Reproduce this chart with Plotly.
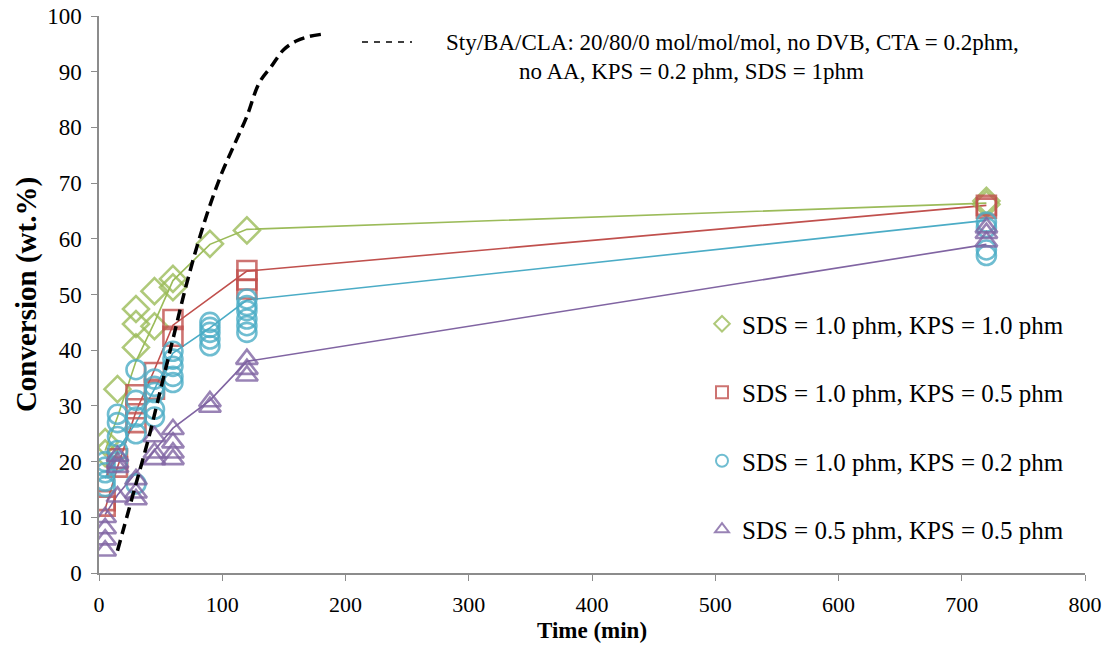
import plotly.graph_objects as go

# ---------------- data ----------------
# Reference run (dashed black curve)
ref_t = [15, 20, 30, 40, 50, 60, 70, 80, 90, 100, 110, 120, 130, 140, 150, 160, 170, 180]
ref_c = [4, 8, 16, 24, 33, 42, 51, 59, 66, 72, 77, 82, 88, 91, 94, 95.5, 96.3, 96.7]

# SDS = 1.0 phm, KPS = 1.0 phm (green diamonds)
g_t = [5, 5, 15, 30, 30, 30, 45, 45, 60, 60, 90, 120, 720, 720]
g_c = [23.5, 21.5, 33, 47.4, 44.7, 40.5, 50.6, 44.3, 52.8, 51.3, 59.1, 61.5, 66.8, 66.2]
g_fit_t = [5, 15, 30, 45, 60, 90, 120, 720]
g_fit_c = [22, 28, 38, 45, 52.5, 59, 61.7, 66.4]

# SDS = 1.0 phm, KPS = 0.5 phm (red squares)
r_t = [5, 5, 15, 15, 30, 30, 30, 45, 45, 60, 60, 120, 120, 120, 720, 720]
r_c = [12, 13, 19, 20.5, 32, 29.5, 27, 36, 33, 45.5, 42.5, 54.3, 52.6, 51, 66, 65.5]
r_fit_t = [5, 15, 30, 45, 60, 120, 720]
r_fit_c = [11.5, 19, 29, 36.5, 44.5, 54.2, 66]

# SDS = 1.0 phm, KPS = 0.2 phm (cyan circles)
c_t = [5, 5, 5, 5, 5, 15, 15, 15, 15, 15, 30, 30, 30, 30, 30,
       45, 45, 45, 45, 45, 60, 60, 60, 60, 60, 90, 90, 90, 90, 90,
       120, 120, 120, 120, 120, 120, 720, 720, 720, 720]
c_c = [20, 19, 18, 16.5, 15.5, 28.5, 27, 24.5, 22, 20, 36.5, 31, 28, 25, 16,
       34.8, 33.5, 32.4, 29.4, 28, 39.8, 38.4, 37.1, 35.3, 34.2, 45, 44.1, 43.2, 42, 40.8,
       49.2, 48, 47.1, 45.6, 44.4, 43.2, 63, 62, 58, 57]
c_fit_t = [5, 15, 30, 45, 60, 90, 120, 720]
c_fit_c = [17, 22, 27, 33, 39.5, 44, 49, 63.3]

# SDS = 0.5 phm, KPS = 0.5 phm (purple triangles)
p_t = [5, 5, 5, 5, 15, 15, 15, 15, 30, 30, 30, 45, 45, 45, 60, 60, 60, 60,
       90, 90, 120, 120, 120, 720, 720, 720]
p_c = [10, 8, 6, 4, 21, 19.8, 19, 13.7, 16.8, 14.4, 13.2, 24.5, 21.6, 20.4, 25.8, 23.4, 21.6, 20.4,
       30.8, 29.8, 38.4, 36.6, 35.4, 62, 61, 59.5]
p_fit_t = [5, 15, 30, 45, 60, 90, 120, 720]
p_fit_c = [10.5, 14, 18, 22, 26, 31, 38, 59]

names = ["SDS = 1.0 phm, KPS = 1.0 phm",
         "SDS = 1.0 phm, KPS = 0.5 phm",
         "SDS = 1.0 phm, KPS = 0.2 phm",
         "SDS = 0.5 phm, KPS = 0.5 phm"]
ref_label_1 = "Sty/BA/CLA: 20/80/0 mol/mol/mol, no DVB, CTA = 0.2phm,"
ref_label_2 = "no AA, KPS = 0.2 phm, SDS = 1phm"

x_ticks = [0, 100, 200, 300, 400, 500, 600, 700, 800]
y_ticks = [0, 10, 20, 30, 40, 50, 60, 70, 80, 90, 100]

# ---------------- styles ----------------
FONT = "Liberation Serif, Times New Roman, serif"
colors = ["#9BBB59", "#C0504D", "#4BACC6", "#8064A2"]
symbols = ["diamond-open", "square-open", "circle-open", "triangle-up-open"]
msizes = [20, 19, 19, 19]

L, R, T, B = 99, 19, 16, 78
W, H = 1104, 651
PW, PH = W - L - R, H - T - B


def px_x(px):
    return (px - L) / PW


def px_y(py):
    return (H - B - py) / PH


fig = go.Figure()

series = [(g_t, g_c, g_fit_t, g_fit_c), (r_t, r_c, r_fit_t, r_fit_c),
          (c_t, c_c, c_fit_t, c_fit_c), (p_t, p_c, p_fit_t, p_fit_c)]

# fit lines
for i, (_, _, ft, fc) in enumerate(series):
    fig.add_trace(go.Scatter(x=ft, y=fc, mode="lines", showlegend=False,
                             line=dict(color=colors[i], width=1.6), hoverinfo="skip"))

# markers
for i, (t, c, _, _) in enumerate(series):
    fig.add_trace(go.Scatter(x=t, y=c, mode="markers", name=names[i],
                             legendgroup=f"g{i}",
                             marker=dict(symbol=symbols[i], size=msizes[i], color=colors[i],
                                         opacity=0.8, line=dict(width=2.6, color=colors[i]))))

# reference dashed curve
fig.add_trace(go.Scatter(x=ref_t, y=ref_c, mode="lines", showlegend=False,
                         line=dict(color="black", width=3.5, dash="11px,6px", shape="spline")))

# dashed-line key
fig.add_shape(type="line", xref="paper", yref="paper",
              x0=px_x(362), x1=px_x(412), y0=px_y(42), y1=px_y(42),
              line=dict(color="black", width=1.5, dash="6px,6px"))
fig.add_annotation(xref="paper", yref="paper", x=px_x(444), y=px_y(42),
                   xanchor="left", yanchor="middle", showarrow=False,
                   text=ref_label_1, font=dict(family=FONT, size=23, color="black"))
fig.add_annotation(xref="paper", yref="paper", x=px_x(691), y=px_y(71),
                   xanchor="center", yanchor="middle", showarrow=False,
                   text=ref_label_2, font=dict(family=FONT, size=23, color="black"))

axis_common = dict(showgrid=False, zeroline=False, showline=True, linecolor="#8c8c8c",
                   linewidth=1.5, ticks="outside", tickcolor="#8c8c8c", ticklen=6,
                   ticklabeloverflow="allow", automargin=False)

fig.update_xaxes(range=[0, 800], tickvals=x_ticks, ticklabelstandoff=5,
                 tickfont=dict(family=FONT, size=22, color="black"),
                 title=dict(text="<b>Time (min)</b>", font=dict(family=FONT, size=23, color="black"),
                            standoff=6),
                 **axis_common)
fig.update_yaxes(range=[0, 100], tickvals=y_ticks, ticklabelstandoff=5,
                 tickfont=dict(family=FONT, size=23, color="black"),
                 title=dict(text="<b>Conversion (wt.%)</b>", font=dict(family=FONT, size=29, color="black"),
                            standoff=2),
                 **axis_common)

fig.update_layout(
    width=W, height=H,
    margin=dict(l=L, r=R, t=T, b=B),
    plot_bgcolor="white", paper_bgcolor="white",
    legend=dict(x=px_x(702), y=px_y(301), xanchor="left", yanchor="top",
                font=dict(family=FONT, size=25, color="black"),
                itemsizing="constant", tracegroupgap=33, bgcolor="rgba(0,0,0,0)"),
)

fig.write_html("out.html")
